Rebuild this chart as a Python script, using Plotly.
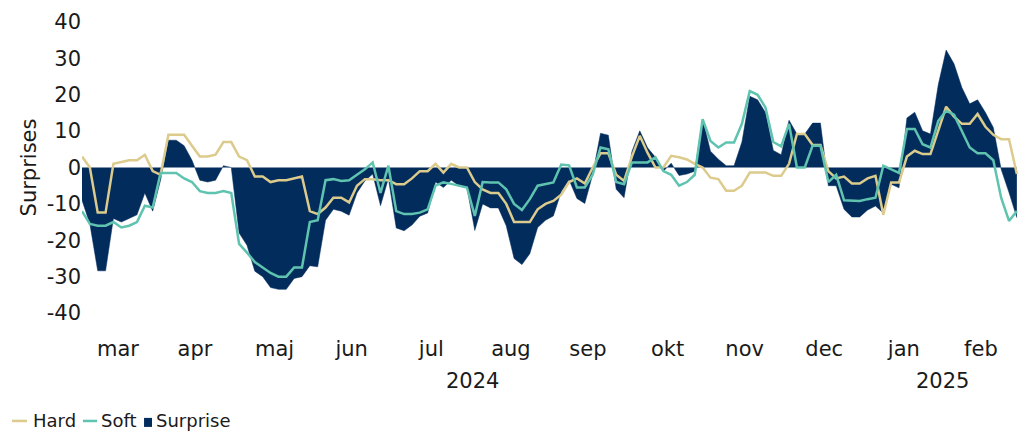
import pandas as pd
import plotly.graph_objects as go

# ---- data ----
dates = pd.date_range("2024-03-02", "2025-03-01", periods=120)

hard = [3, 0, -12.4, -12.4, 1, 1.5, 2, 2, 3.5, -1,
        -2, 9, 9, 9, 6, 3, 3, 3.5, 7, 7,
        3, 2, -2.5, -2.5, -4, -3.5, -3.5, -3, -2.5, -12,
        -12.8, -11, -8.3, -8.3, -9.6, -5, -3.2, -3.2, -3.5, -3.5,
        -4.6, -4.6, -3, -1, -1, 1, -1.4, 1, 0, 0,
        -4, -6, -7, -7, -10, -15, -15, -15, -11.5, -10,
        -9.2, -7.5, -4, -3, -4.4, 0, 3.9, 3.9, -2, -3.7,
        3, 8.7, 4, 0, 0, 3.2, 2.8, 2.2, 1, 0,
        -2.8, -3.2, -6.4, -6.4, -5, -1.4, -1.4, -1.4, -2.3, -2.3,
        1, 9.2, 9.2, 6.2, 6.2, -1, -3, -2.5, -4.4, -4.4,
        -3, -2.3, -13, -4.1, -4.1, 3, 4.6, 3.7, 3.7, 10,
        16.7, 14, 12, 12, 14.7, 11.2, 9, 7.8, 7.8, -1.8]

soft = [-12, -15.5, -16, -16, -15, -16.5, -16, -15, -10.5, -11,
        -1.5, -1.5, -1.5, -3, -4, -6.5, -7, -7, -6.5, -7,
        -21, -23.4, -26, -27.5, -29, -30, -30, -27.5, -27.5, -15,
        -14.5, -3.5, -3.2, -3.7, -3.5, -2, -0.5, 1.4, -7, 0.5,
        -12, -12.8, -12.8, -12.4, -11.5, -5, -4.1, -4.5, -5, -5.5,
        -13.3, -4, -4.1, -4.1, -6, -10, -11.7, -8.7, -5, -4.5,
        -4.1, 0.8, 0.6, -5.5, -5.5, -2, 5.5, 5, -4, -4.6,
        1.4, 1.4, 1.4, 2.8, -1, -2, -5, -4, -2, 13.3,
        7.3, 5.5, 6.9, 6.9, 12, 21, 20, 16.5, 7, 5.8,
        12, 0, 0, 6, 6, -4, -2, -9, -9.2, -9.2,
        -8.7, -8.3, 0.5, -0.5, -1.5, 10.6, 10.6, 6.4, 5.5, 12.8,
        15.6, 14.5, 10, 5.5, 3.9, 3.9, 2, -8.3, -14.7, -12]

surprise = [-9, -15.5, -28.4, -28.4, -14, -15, -14, -13, -7, -12,
            -3.5, 7.5, 7.5, 6, 2, -3.5, -4, -3.5, 0.5, 0,
            -18, -21.4, -28.5, -30, -33, -33.5, -33.5, -30.5, -30, -27,
            -27.3, -14.5, -11.5, -12, -13.1, -7, -3.7, -1.8, -10.5, -3,
            -16.6, -17.4, -15.8, -13.4, -12.5, -4, -5.5, -3.5, -5, -5.5,
            -17.3, -10, -11.1, -11.1, -16, -25, -26.7, -23.7, -16.5, -14.5,
            -13.3, -6.7, -3.4, -8.5, -9.9, -2, 9.4, 8.9, -6, -8.3,
            4.4, 10.1, 5.4, 2.8, -1, 1.2, -2.2, -1.8, -1, 13.3,
            4.5, 2.3, 0.5, 0.5, 7, 19.6, 18.6, 15.1, 4.7, 3.5,
            13, 9.2, 9.2, 12.2, 12.2, -5, -5, -11.5, -13.6, -13.6,
            -11.7, -10.6, -12.5, -4.6, -5.6, 13.6, 15.2, 10.1, 9.2, 22.8,
            32.3, 28.5, 22, 17.5, 18.6, 15.1, 11, -0.5, -6.9, -13.8]

month_ticks = ["2024-03-16", "2024-04-15", "2024-05-16", "2024-06-15",
               "2024-07-16", "2024-08-16", "2024-09-15", "2024-10-16",
               "2024-11-15", "2024-12-16", "2025-01-16", "2025-02-15"]
month_labels = ["mar", "apr", "maj", "jun", "jul", "aug", "sep", "okt",
                "nov", "dec", "jan", "feb"]
year_pos = ["2024-08-01", "2025-01-31"]
year_labels = ["2024", "2025"]
y_ticks = [40, 30, 20, 10, 0, -10, -20, -30, -40]
y_labels = ["40", "30", "20", "10", "0", "-10", "-20", "-30", "-40"]
legend_names = ["Hard", "Soft", "Surprise"]

# ---- style ----
NAVY = "#022C5C"
TAN = "#DCCB8C"
TEAL = "#5FC3B0"
TXT = "#1a1a1a"
FONT = "DejaVu Sans"

fig = go.Figure()
fig.add_trace(go.Scatter(x=dates, y=surprise, name="Surprise", mode="lines",
                         fill="tozeroy", fillcolor=NAVY, showlegend=False,
                         line=dict(color=NAVY, width=0.5)))
fig.add_trace(go.Scatter(x=dates, y=hard, name="Hard", mode="lines",
                         showlegend=False, line=dict(color=TAN, width=2.5)))
fig.add_trace(go.Scatter(x=dates, y=soft, name="Soft", mode="lines",
                         showlegend=False, line=dict(color=TEAL, width=2.5)))

for xp, lab in zip(year_pos, year_labels):
    fig.add_annotation(x=xp, xref="x", y=-0.234, yref="paper", text=lab,
                       showarrow=False, yanchor="middle", xanchor="center",
                       font=dict(size=21, color=TXT, family=FONT))

# legend (bottom-left, compact key marks like the reference)
LY = -0.371
fig.add_shape(type="line", xref="paper", yref="paper", x0=-0.0745, x1=-0.0585,
              y0=LY, y1=LY, line=dict(color=TAN, width=2.5))
fig.add_shape(type="line", xref="paper", yref="paper", x0=0.001, x1=0.016,
              y0=LY, y1=LY, line=dict(color=TEAL, width=2.5))
fig.add_shape(type="rect", xref="paper", yref="paper", x0=0.066, x1=0.0745,
              y0=-0.3915, y1=-0.3605, line=dict(width=0), fillcolor=NAVY)
for xp, lab in zip([-0.054, 0.018, 0.0765], legend_names):
    fig.add_annotation(x=xp, xref="paper", y=LY, yref="paper", text=lab,
                       showarrow=False, xanchor="left", yanchor="middle",
                       font=dict(size=18, color=TXT, family=FONT))

fig.update_layout(
    width=1025, height=432,
    margin=dict(l=82, r=3, t=22, b=119),
    paper_bgcolor="white", plot_bgcolor="white",
    font=dict(family=FONT, color=TXT),
    showlegend=False,
    xaxis=dict(type="date", range=["2024-03-02", "2025-03-03"],
               tickvals=month_ticks, ticktext=month_labels,
               showgrid=False, zeroline=False, showline=False, ticks="",
               tickfont=dict(size=21, color=TXT, family=FONT),
               ticklabelstandoff=21),
    yaxis=dict(range=[-40, 40], tickvals=y_ticks, ticktext=y_labels,
               showgrid=False, zeroline=False, showline=False, ticks="",
               tickfont=dict(size=21, color=TXT, family=FONT),
               title=dict(text="Surprises", standoff=4,
                          font=dict(size=21, color=TXT, family=FONT))),
)

fig.write_html("out.html", config={"displayModeBar": False},
               post_script="document.body.style.margin='0';document.body.style.overflow='hidden';")
